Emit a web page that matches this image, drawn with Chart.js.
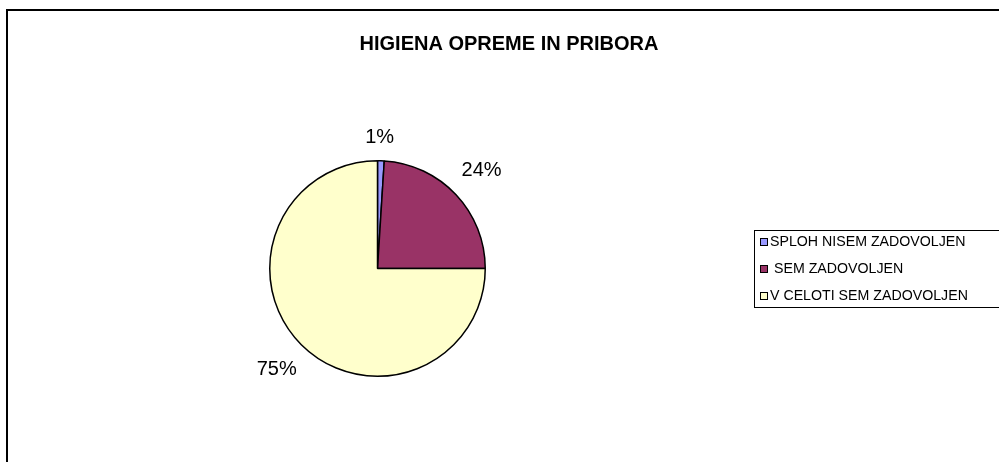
<!DOCTYPE html>
<html>
<head>
<meta charset="utf-8">
<script src="https://cdn.jsdelivr.net/npm/chart.js@4.4.1/dist/chart.umd.min.js"></script>
<style>
  html, body { margin: 0; padding: 0; background: #fff; }
  #wrap { width: 999px; height: 462px; position: relative; }
</style>
</head>
<body>
<div id="wrap"><canvas id="higienaChart" width="999" height="462"></canvas></div>
<script>
const naslov = 'HIGIENA OPREME IN PRIBORA';
const kategorije = ['SPLOH NISEM ZADOVOLJEN', 'SEM ZADOVOLJEN', 'V CELOTI SEM ZADOVOLJEN'];
const deleži = [1, 24, 75];
const oznake = ['1%', '24%', '75%'];
const barve = ['#9999FF', '#993366', '#FFFFCC'];

// okvir, naslov, oznake in legenda - narisano rocno
const okvirPlugin = {
    id: 'okvir',
    afterDraw(chart) {
        const ctx = chart.ctx;
        ctx.save();
        // okvir grafa (desni in spodnji rob sta odrezana)
        ctx.strokeStyle = '#000';
        ctx.lineWidth = 2;
        ctx.strokeRect(7, 10, 1010, 470);

        // naslov
        ctx.fillStyle = '#000';
        ctx.font = 'bold 20px "Liberation Sans", Arial, sans-serif';
        ctx.textAlign = 'center';
        ctx.textBaseline = 'middle';
        ctx.fillText(naslov, 509, 44);

        // odstotki ob rezinah
        const meta = chart.getDatasetMeta(0);
        ctx.font = '20px "Liberation Sans", Arial, sans-serif';
        meta.data.forEach((arc, i) => {
            const kot = (arc.startAngle + arc.endAngle) / 2;
            const w = ctx.measureText(oznake[i]).width;
            const dx = Math.cos(kot), dy = Math.sin(kot);
            const d = arc.outerRadius + 15 + Math.abs(dx) * w / 2 + Math.abs(dy) * 8;
            ctx.fillText(oznake[i], arc.x + dx * d - (i === 0 ? 2 : 0), arc.y + dy * d);
        });

        // legenda
        ctx.lineWidth = 1;
        ctx.strokeStyle = '#000';
        ctx.strokeRect(754.5, 230.5, 300, 77);
        ctx.font = '14.2px "Liberation Sans", Arial, sans-serif';
        ctx.textAlign = 'left';
        kategorije.forEach((k, i) => {
            const y = 242 + i * 27;
            ctx.fillStyle = barve[i];
            ctx.fillRect(760.5, y - 3.5, 7, 7);
            ctx.strokeRect(760.5, y - 3.5, 7, 7);
            ctx.fillStyle = '#000';
            ctx.fillText(k, i === 1 ? 774 : 770, y);
        });
        ctx.restore();
    }
};

new Chart(document.getElementById('higienaChart'), {
    type: 'pie',
    data: {
        labels: kategorije,
        datasets: [{
            data: deleži,
            backgroundColor: barve,
            borderColor: '#000',
            borderWidth: 1.5
        }]
    },
    options: {
        responsive: false,
        animation: false,
        layout: {
            padding: { left: 269, right: 513, top: 160, bottom: 85 }
        },
        plugins: {
            legend: { display: false },
            title: { display: false },
            tooltip: { enabled: false }
        }
    },
    plugins: [okvirPlugin]
});
</script>
</body>
</html>
